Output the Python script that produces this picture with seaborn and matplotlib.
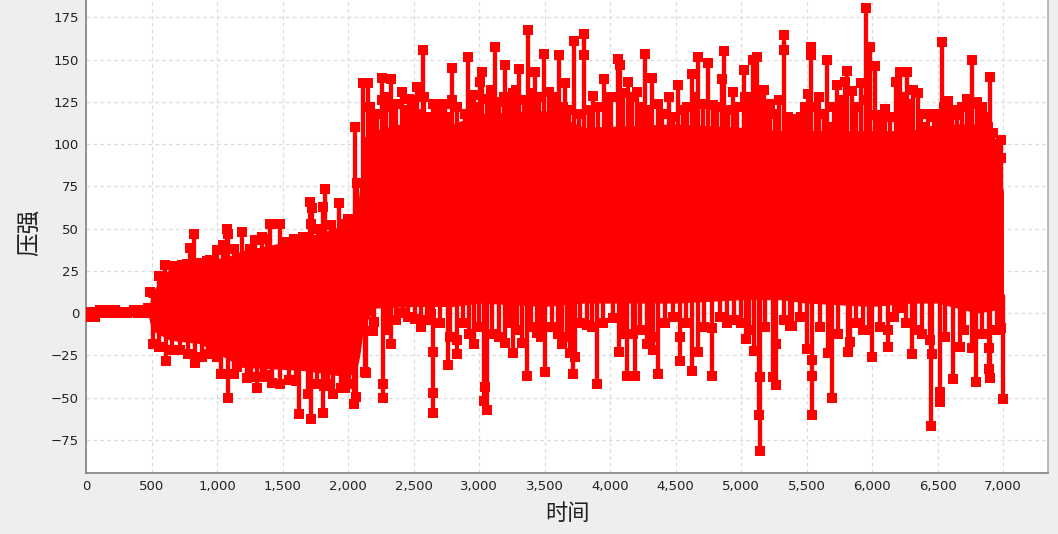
# Pressure over time, dense red trace on a light grey panel
import numpy as np
import seaborn as sns
import matplotlib.pyplot as plt

# start of the run, almost flat around zero
early_times = [0, 15, 30, 50, 70, 90, 110, 135, 160, 190, 220, 250, 280, 310, 340, 370, 400, 430, 455, 475]
early_values = [-2, 1, -2, 1, -2, 0, 2, 0, 2, 0, 2, 0, 1, 0, 1, 2, 0, 2, 0, 3]

# solid body of the trace
body_times = [480, 500, 640, 870, 1100, 1190, 1450, 1680, 1930, 2060, 2090, 2120, 2200, 2500, 2800, 3000,
              3500, 3800, 4500, 5000, 5300, 5500, 6000, 6300, 6500, 6800, 6950, 7003]
body_high = [3, 12, 27, 30, 34, 37, 41, 45, 51, 54, 75, 104, 108, 114, 112, 118,
             120, 110, 112, 110, 108, 108, 108, 108, 112, 112, 90, 72]
body_low = [-3, -10, -16, -18, -28, -32, -33, -34, -37, -36, -25, -8, 3, 4, 4, 6,
            4, 6, 6, 8, 8, 6, 4, 6, 6, 0, 2, -8]

# upper spikes
top_times = [489, 603, 733, 794, 825, 870, 947, 1000, 1046, 1076, 1084, 1191, 1229, 1290, 1343, 1405, 1481, 1504,
             1557, 1611, 1656, 1710, 1717, 1725, 1809, 1824, 1931, 1977, 2015, 2053, 2069, 2115, 2153, 2191, 2260,
             2260, 2328, 2344, 2412, 2466, 2527, 2573, 2580, 2603, 2679, 2740, 2794, 2794, 2863, 2916, 2962, 3008,
             3023, 3122, 3191, 3198, 3260, 3305, 3374, 3427, 3496, 3534, 3611, 3656, 3725, 3801, 3801, 3870, 3954,
             3977, 4061, 4076, 4137, 4206, 4267, 4321, 4366, 4450, 4519, 4626, 4672, 4748, 4786, 4855, 4870, 4939,
             5023, 5031, 5092, 5122, 5176, 5221, 5290, 5328, 5328, 5389, 5435, 5473, 5511, 5534, 5534, 5595, 5656,
             5687, 5733, 5733, 5794, 5809, 5847, 5916, 5954, 5985, 6023, 6038, 6099, 6115, 6183, 6214, 6267, 6313,
             6351, 6389, 6427, 6504, 6534, 6580, 6649, 6725, 6763, 6802, 6840, 6886, 6901, 6924, 6985, 6985]
top_values = [12.6, 28.6, 28.6, 38.6, 47, 29.7, 31.5, 37.5, 40.4, 50, 47, 48, 33, 43.4, 45, 53, 53, 40,
              38, 42, 45, 66, 53, 62, 63, 73.5, 65, 53, 56, 110, 77, 136, 136, 112, 139,
              126, 138.5, 122, 131, 127, 134, 155.7, 128, 113, 124, 124, 145, 126, 110, 151.6, 129, 137,
              143, 157.5, 128, 147, 130, 144.5, 167.6, 143, 153.4, 131, 153, 136, 161, 165, 153, 128.5, 138.5,
              126, 150.4, 147, 137, 131, 153.4, 139, 124, 128, 135, 141.6, 151.7, 148, 123, 138.6, 155, 131,
              144, 128, 150, 151.7, 132, 124, 126, 164.7, 155.8, 115, 107, 110, 129.7, 157.6, 153, 128, 150,
              110, 135, 116, 137, 143.5, 131.5, 136, 180.6, 157.6, 146, 117, 121, 104, 137, 143, 143, 132,
              130, 110, 118, 118, 160.5, 125.6, 117, 127, 150, 125, 122, 110, 140, 106.7, 102.6, 92]

# lower spikes
bottom_times = [511, 611, 656, 832, 885, 969, 1031, 1084, 1153, 1229, 1305, 1366, 1420, 1481, 1550, 1626, 1695, 1717,
                1809, 1817, 1885, 1977, 2046, 2061, 2130, 2137, 2191, 2267, 2267, 2328, 2420, 2511, 2634, 2649,
                2649, 2649, 2763, 2832, 2832, 2962, 3038, 3046, 3061, 3198, 3260, 3328, 3366, 3443, 3504, 3634,
                3695, 3718, 3733, 3824, 3901, 4023, 4069, 4130, 4176, 4191, 4282, 4328, 4366, 4534, 4534, 4626,
                4672, 4779, 4779, 4893, 5000, 5038, 5099, 5137, 5145, 5145, 5244, 5267, 5267, 5374, 5389, 5504,
                5542, 5542, 5542, 5664, 5695, 5817, 5832, 5931, 6000, 6122, 6122, 6221, 6305, 6328, 6443, 6450,
                6458, 6519, 6519, 6618, 6672, 6763, 6794, 6893, 6893, 6901, 6985, 7000]
bottom_values = [-18, -28, -22, -29.5, -26, -22.6, -36, -50, -32, -38.5, -44, -36.7, -41, -42, -39.5, -59.6, -48, -62.7,
                 -59, -43, -48, -44, -53.6, -49.6, -35, -35.5, -10.6, -50, -42, -18, 0, -3.5, -0.5, -59,
                 -47, -23, -30.6, -24, -16, -18, -52, -43.6, -57, -17.7, -23.6, -17.7, -37, -11.5, -35, -18,
                 -23.6, -36, -26, -7, -42, -3, -23, -37, -12, -37, -18, -22, -36, -28.4, -14, -34,
                 -23, -37, -9, -6, -6, -15, -22.6, -60, -81.5, -38, -38, -42.5, -18, -7.5, -7.6, -21.3,
                 -37, -60, -27.6, -23.7, -50, -23, -17, -10, -26, -20, -10, 3, -24, -10, -16, -66.7,
                 -24, -52.5, -46.5, -39, -20, -20.7, -40.7, -20.7, -33, -38.6, -8.7, -51]

# shorter readings that make the rough edge of the body
upper_edge_times = [560, 680, 770, 920, 1130, 1250, 1380, 1530, 1590, 1770, 1870, 2000,
                    2170, 2225, 2290, 2370, 2440, 2495, 2550, 2620, 2650, 2710, 2770, 2830, 2890, 2940, 2990,
                    3060, 3090, 3150, 3225, 3285, 3340, 3400, 3460, 3560, 3585, 3640, 3690, 3760, 3840, 3905,
                    4010, 4100, 4170, 4240, 4295, 4400, 4480, 4560, 4590, 4650, 4710, 4820, 4900, 4970, 5060,
                    5150, 5200, 5260, 5360, 5420, 5455, 5490, 5570, 5630, 5710, 5765, 5880, 5950, 6070, 6140,
                    6240, 6290, 6370, 6470, 6550, 6610, 6690, 6750, 6830, 6870, 6950]
upper_edge_values = [22, 28, 29, 31, 38, 38, 44, 42, 44, 50, 52, 56,
                     122, 118, 128, 124, 120, 126, 118, 116, 124, 118, 116, 122, 118, 126, 122,
                     127, 132, 125, 128, 132, 126, 130, 128, 126, 128, 122, 120, 118, 120, 122,
                     128, 130, 128, 122, 120, 118, 116, 120, 122, 128, 124, 122, 120, 122, 128,
                     128, 122, 118, 116, 112, 116, 122, 122, 118, 122, 126, 122, 126, 116, 116,
                     128, 124, 118, 116, 122, 120, 122, 124, 118, 116, 100]
lower_edge_times = [560, 720, 780, 930, 1000, 1130, 1260, 1340, 1600, 1760, 1850, 1950, 2010,
                    2200, 2300, 2370, 2460, 2560, 2600, 2700, 2780, 2880, 2920, 3000, 3100, 3150, 3230, 3290,
                    3400, 3470, 3560, 3600, 3670, 3770, 3860, 3950, 4100, 4230, 4310, 4420, 4480, 4580, 4720,
                    4840, 4950, 5060, 5180, 5330, 5450, 5600, 5740, 5880, 5980, 6060, 6170, 6260, 6380, 6560,
                    6700, 6840, 6950]
lower_edge_values = [-20, -22, -24, -24, -26, -36, -38, -38, -40, -42, -42, -44, -42,
                     -5, -10, -4, -2, -8, -4, -6, -14, -6, -12, -8, -12, -14, -6, -10,
                     -8, -14, -8, -12, -14, -6, -8, -6, -12, -10, -14, -6, -2, -6, -8,
                     -2, -4, -10, -8, -4, -2, -8, -12, -6, -10, -8, -2, -6, -12, -14,
                     -10, -12, -10]

x_ticks = list(range(0, 7001, 500))
y_ticks = list(range(-75, 176, 25))
pivot = 10  # every spike leaves from inside the body

red = '#ff0000'
panel = '#eeeeee'

sns.set_style('white')
plt.rcParams['font.family'] = ['DejaVu Sans']

fig = plt.figure(figsize=(10.58, 5.34), dpi=100, facecolor=panel)
ax = fig.add_axes([86 / 1058, 60.7 / 534, 962 / 1058, 473.3 / 534], facecolor='white')

ax.fill_between(body_times, body_low, body_high, color=red, lw=0, zorder=2)

# spikes as one trace: up to the reading and back down the same stem
spike_sets = [(top_times, top_values), (bottom_times, bottom_values),
              (upper_edge_times, upper_edge_values), (lower_edge_times, lower_edge_values)]
for times, values in spike_sets:
    xs = np.repeat(times, 3)
    ys = np.column_stack([np.full(len(values), pivot), values, np.full(len(values), pivot)]).ravel()
    sns.lineplot(x=xs, y=ys, sort=False, estimator=None, color=red, lw=3.0, ax=ax, zorder=3)
    sns.scatterplot(x=times, y=values, marker='s', s=42, color=red, linewidth=0, ax=ax, zorder=4)

sns.lineplot(x=early_times, y=early_values, sort=False, estimator=None, color=red, lw=3.0, ax=ax, zorder=3)
sns.scatterplot(x=early_times, y=early_values, marker='s', s=42, color=red, linewidth=0, ax=ax, zorder=4)

ax.set_xlim(0, 7343)
ax.set_ylim(-94.7, 185.3)
ax.set_xticks(x_ticks)
ax.set_xticklabels([f'{t:,}' for t in x_ticks])
ax.set_yticks(y_ticks)
ax.grid(True, color='#dcdcdc', ls=(0, (3, 2.5)), lw=0.9)
ax.set_axisbelow(True)
ax.tick_params(axis='both', length=2.5, width=0.8, color='#808080', labelsize=9.5, labelcolor='#222222', pad=2.5)

for side in ['left', 'bottom']:
    ax.spines[side].set_color('#808080')
    ax.spines[side].set_linewidth(1.2)
ax.spines['right'].set_color('#b0b0b0')
ax.spines['right'].set_linewidth(1.2)
ax.spines['top'].set_visible(False)

cjk = ['Noto Sans CJK SC', 'DejaVu Sans']
fig.text(567 / 1058, 1 - 513 / 534, '时间', family=cjk, fontsize=16, color='#222222', ha='center', va='center')
fig.text(30 / 1058, 1 - 232 / 534, '压强', family=cjk, fontsize=17, color='#222222', ha='center', va='center', rotation=90)

fig.savefig('out.png', dpi=100, facecolor=panel)
